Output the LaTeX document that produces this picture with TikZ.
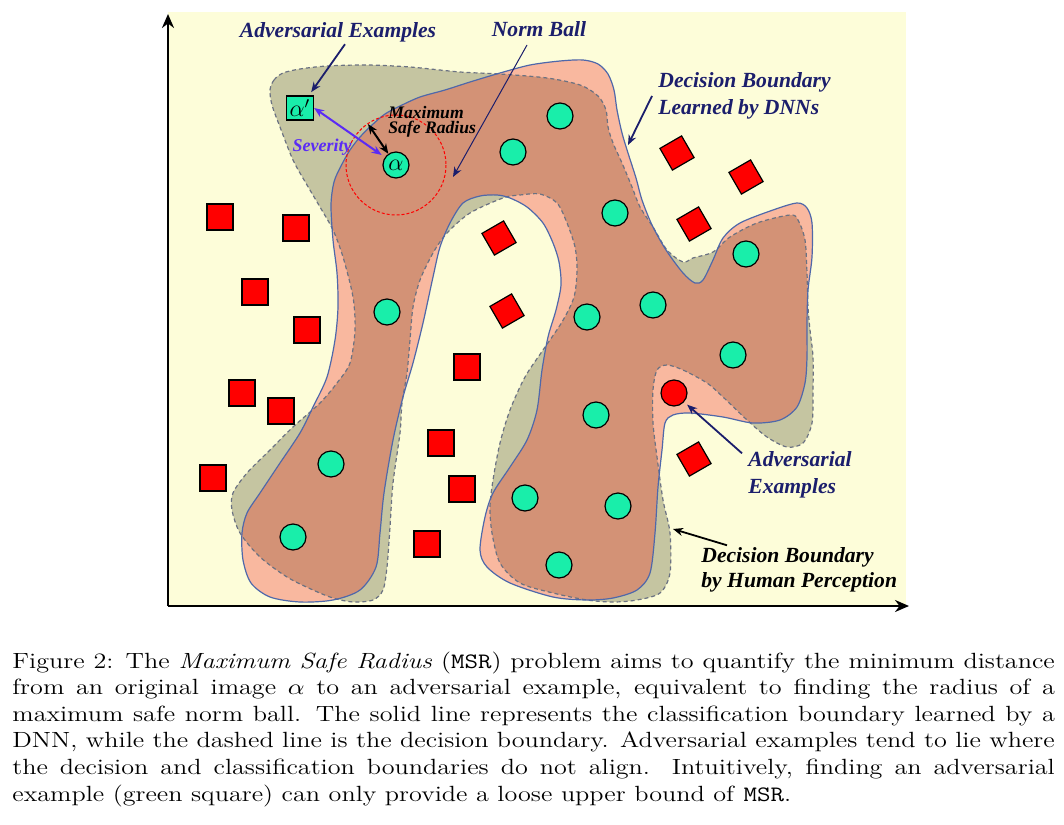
\documentclass[tikz,border=0pt]{standalone}
\usepackage{fontspec}
\usetikzlibrary{arrows.meta}
\newfontfamily\annofont{Liberation Serif}
\definecolor{paper}{HTML}{FDFDD9}
\definecolor{humanfill}{HTML}{C5C5A1}
\definecolor{dnnfill}{HTML}{F9B89F}
\definecolor{bothfill}{HTML}{D39276}
\definecolor{dnnedge}{HTML}{4F68AA}
\definecolor{humanedge}{HTML}{6B7282}
\definecolor{goodfill}{HTML}{19EEAA}
\definecolor{navy}{HTML}{1B1E6C}
\definecolor{sevcol}{HTML}{5B2BF5}
\begin{document}
\begin{tikzpicture} [x = 0.5pt, y = -0.5pt,
	good/.style = {circle, draw, line width = 0.6pt, fill = goodfill, minimum size = 13pt, inner sep = 0pt},
	bad/.style = {rectangle, draw, line width = 0.6pt, fill = red, minimum size = 13pt, inner sep = 0pt},
	badtilt/.style = {bad, minimum size = 12.5pt, rotate = 30},
	anno/.style = {font = \annofont\bfseries\itshape\fontsize{10.8}{13.5}\selectfont, text = navy, inner sep = 1pt, align = left},
	tip/.style = {-{Stealth[length = 5pt, width = 4pt]}},
	pointer/.style = {tip, navy, line width = 0.9pt},
	twoway/.style = {{Stealth[length = 5pt, width = 4pt]}-{Stealth[length = 5pt, width = 4pt]}, line width = 1pt}]
	\useasboundingbox (0,0) rectangle (1064,824);
	\fill[paper] (168,12) rectangle (906,606);
	\path[save path = \dnnpath] plot[smooth cycle] coordinates {(331,205) (334,182) (341,166) (350,150) (360,137) (372,125) (385,114) (400,106) (420,97) (445,90) (470,82) (500,73) (530,65) (560,61) (583,60) (598,64) (608,74) (614,90) (617,110) (622,133) (628,153) (636,178) (642,200) (652,225) (666,250) (683,273) (695,283) (703,280) (713,260) (723,238) (740,223) (773,210) (797,203) (807,208) (812,223) (812,257) (808,290) (807,323) (807,357) (805,383) (797,407) (780,420) (753,423) (723,417) (690,413) (673,415) (665,423) (662,450) (658,487) (655,533) (650,573) (637,590) (613,598) (587,600) (553,597) (510,583) (487,567) (480,550) (485,517) (493,493) (510,467) (527,440) (537,410) (542,370) (548,337) (556,310) (561,285) (559,262) (553,243) (543,223) (527,207) (510,198) (497,195) (480,196) (463,203) (450,223) (440,247) (433,277) (423,323) (413,363) (403,397) (393,440) (384,493) (380,533) (376,567) (360,590) (333,600) (300,602) (270,597) (251,583) (243,560) (242,533) (247,513) (260,493) (280,463) (300,433) (313,407) (327,377) (335,340) (338,307) (337,273) (333,240)};
	\path[save path = \humanpath] plot[smooth cycle] coordinates {(270,90) (274,80) (283,73) (300,69) (327,66) (367,65) (410,67) (460,72) (500,74) (547,78) (580,85) (598,96) (606,110) (608,127) (613,143) (622,163) (632,187) (640,207) (653,227) (667,250) (683,262) (693,258) (713,252) (730,237) (757,223) (790,215) (798,220) (805,240) (807,273) (808,307) (810,330) (813,357) (813,390) (812,423) (803,443) (787,447) (767,437) (747,420) (723,397) (707,383) (683,370) (667,365) (657,370) (653,390) (653,423) (657,457) (663,500) (670,533) (670,573) (660,593) (637,600) (613,602) (587,600) (553,593) (520,583) (500,563) (492,533) (490,507) (493,480) (500,443) (510,410) (525,377) (543,350) (562,322) (574,297) (577,270) (575,247) (567,223) (557,203) (540,194) (520,195) (503,198) (470,213) (447,233) (433,253) (420,280) (413,307) (410,340) (407,373) (402,403) (400,433) (393,483) (390,527) (387,567) (383,590) (373,600) (353,602) (333,598) (313,590) (287,577) (260,557) (240,533) (232,510) (233,493) (247,473) (270,450) (293,427) (320,403) (337,383) (350,363) (355,330) (353,297) (343,257) (333,230) (320,207) (307,185) (293,160) (280,127) (272,105)};
	\fill[humanfill, use path = \humanpath];
	\fill[dnnfill, use path = \dnnpath];
	\begin{scope}
		\clip[use path = \humanpath];
		\fill[bothfill, use path = \dnnpath];
	\end{scope}
	\draw[humanedge, line width = 0.6pt, dash pattern = on 2pt off 1.5pt, use path = \humanpath];
	\draw[dnnedge, line width = 0.6pt, use path = \dnnpath];
	\foreach \p [count = \i] in {(220,217), (296,228), (255,292), (307,330), (242,393), (281,411), (213,478), (467,367), (441,443), (462,489), (427,544)}
		\node[bad] (sq\i) at \p {};
	\foreach \p [count = \i] in {(499,238), (507,311), (677,153), (746,177), (694,224), (694,459)}
		\node[badtilt] (tilt\i) at \p {};
	\foreach \p [count = \i] in {(560,116), (513,152), (615,213), (746,254), (587,317), (653,305), (733,355), (596,415), (525,498), (618,506), (559,565), (387,312), (331,464), (293,537)}
		\node[good] (ok\i) at \p {};
	\node[good, fill = red] (adv) at (674,393) {};
	\node[good, font = \fontsize{13}{13}\selectfont] (alpha) at (396,165) {$\alpha$};
	\node[bad, fill = goodfill, minimum width = 13.5pt, minimum height = 12pt, font = \fontsize{11.5}{11.5}\selectfont] (alphap) at (300,108) {$\alpha'$};
	\draw[red, line width = 0.5pt, dash pattern = on 1.5pt off 1pt] (alpha) circle [radius = 50];
	\coordinate (rim) at (368,124);
	\coordinate (ballrim) at (453,177);
	\coordinate (dnnrim) at (628,145);
	\coordinate (humanrim) at (673,529);
	\draw[twoway] (rim) -- (alpha);
	\draw[twoway, sevcol, shorten > = 2pt] (alphap.east) -- (alpha);
	% axes
	\coordinate (origin) at (168,606);
	\coordinate (ytop) at (168,14);
	\coordinate (xend) at (909,606);
	\draw[line width = 1.4pt, -{Stealth[length = 7pt, width = 6pt]}] (origin) -- (ytop);
	\draw[line width = 1.4pt, -{Stealth[length = 7pt, width = 6pt]}] (origin) -- (xend);
	% labels
	\node[anno] (advtop) at (338,32) {Adversarial Examples};
	\node[anno] (normball) at (539,29) {Norm Ball};
	\node[anno, anchor = west] (dnnlab) at (656,96) {Decision Boundary\\Learned by DNNs};
	\node[anno, anchor = west] (advright) at (746,475) {Adversarial\\Examples};
	\node[anno, anchor = west, text = black, font = \annofont\bfseries\itshape\fontsize{10.8}{12.5}\selectfont] (humanlab) at (699,570) {Decision Boundary\\by Human Perception};
	\node[anno, anchor = west, inner sep = 0pt, text = black, font = \annofont\bfseries\itshape\fontsize{8.8}{7.6}\selectfont] (msrlab) at (388,122) {Maximum\\Safe Radius};
	\node[anno, text = sevcol, font = \annofont\bfseries\itshape\fontsize{9}{9}\selectfont] (severity) at (322,147) {Severity};
	\draw[pointer, shorten > = 2pt] ([xshift = 3.5pt]advtop.south) -- (alphap);
	\draw[pointer, line width = 0.5pt] ([xshift = -6pt, yshift = -3pt]normball.south) -- (ballrim);
	\draw[pointer] ([xshift = -2pt]dnnlab.west) -- (dnnrim);
	\draw[pointer, shorten > = 2pt] ([shift = {(-2pt,-2pt)}]advright.north west) -- (adv);
	\draw[pointer, black] ([xshift = 14pt]humanlab.north west) -- (humanrim);
	% caption
	\node[anchor = base west, inner sep = 0pt] (caption) at (12,668) {\scalebox{1.19}[1]{\begin{minipage}[t]{438pt}\fontsize{11}{13.3}\selectfont
	Figure 2: The \emph{Maximum Safe Radius} (\texttt{MSR}) problem aims to quantify the minimum distance\linebreak
	from an original image $\alpha$ to an adversarial example, equivalent to finding the radius of a\linebreak
	maximum safe norm ball. The solid line represents the classification boundary learned by a\linebreak
	DNN, while the dashed line is the decision boundary. Adversarial examples tend to lie where\linebreak
	the decision and classification boundaries do not align. Intuitively, finding an adversarial\linebreak
	example (green square) can only provide a loose upper bound of \texttt{MSR}.\end{minipage}}};
\end{tikzpicture}
\end{document}
